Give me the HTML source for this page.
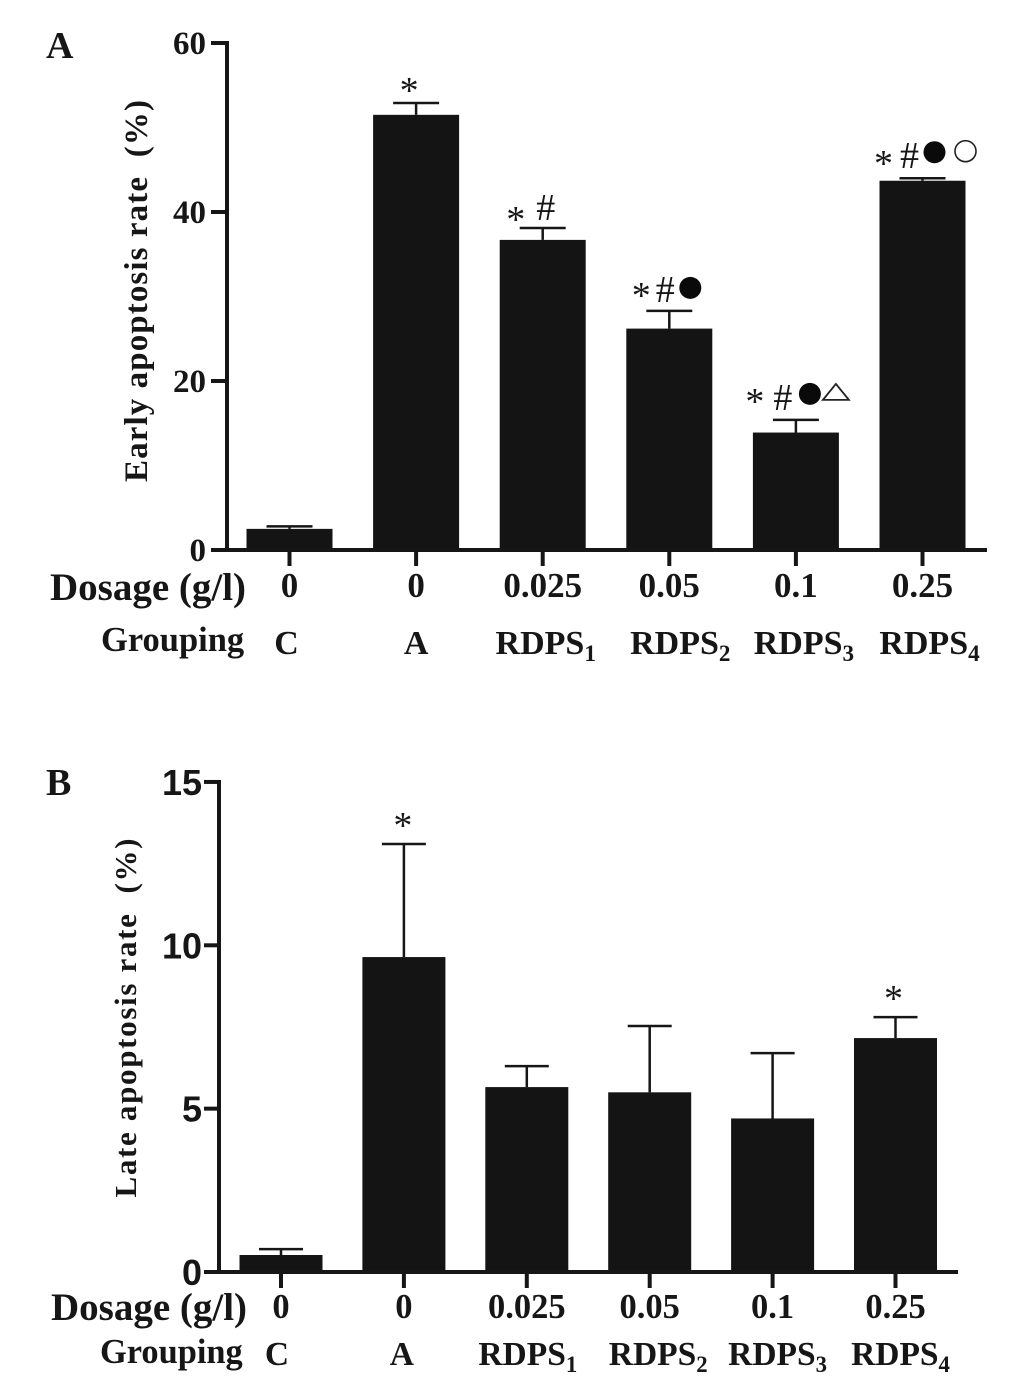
<!DOCTYPE html>
<html>
<head>
<meta charset="utf-8">
<style>
html,body{margin:0;padding:0;background:#fff;}
#fig{display:block;}
text{font-family:"Liberation Serif",serif;font-weight:bold;fill:#161616;}
</style>
</head>
<body>
<svg id="fig" xmlns="http://www.w3.org/2000/svg" width="1033" height="1394" viewBox="0 0 1033 1394"></svg>
<script>
const dosages = ['0','0','0.025','0.05','0.1','0.25'];
const groups = ['C','A','RDPS','RDPS','RDPS','RDPS'];
const groupSubs = ['','','1','2','3','4'];

const earlyValues = [2.5,51.5,36.7,26.2,13.9,43.7];
const earlyErrorTops = [2.8,52.9,38.1,28.3,15.4,44.0];
const earlyTicks = [0,20,40,60];
const earlyMarks = [[],['*'],['*','#'],['*','#','f'],['*','#','f','t'],['*','#','f','o']];

const lateValues = [0.52,9.64,5.66,5.5,4.7,7.16];
const lateErrorTops = [0.7,13.1,6.3,7.53,6.7,7.8];
const lateTicks = [0,5,10,15];
const lateMarks = [[],['*'],[],[],[],['*']];

const svg = document.getElementById('fig');
const NS = 'http://www.w3.org/2000/svg';
function add(tag, attrs, name, text){
  const el = document.createElementNS(NS, tag);
  for (const k in attrs) el.setAttribute(k, attrs[k]);
  
  
  if (text !== undefined) el.textContent = text;
  svg.appendChild(el);
  return el;
}
function line(x1,y1,x2,y2,w,name){
  return add('line',{x1,y1,x2,y2,stroke:'#161616','stroke-width':w},name);
}

function panel(o){
  const y = v => o.y0 - v * o.pxPerUnit;
  const x = i => o.x0 + i * o.step;

  // bars and error bars
  o.values.forEach((v,i)=>{
    const cx = x(i);
    line(cx,y(v),cx,y(o.errors[i]),o.errW,o.id+'-error-stem-'+i);
    line(cx-o.capHalf,y(o.errors[i]),cx+o.capHalf,y(o.errors[i]),o.errW,o.id+'-error-cap-'+i);
    add('rect',{x:cx-o.barW/2,y:y(v),width:o.barW,height:o.y0-y(v),fill:'#141414'},o.id+'-bar-'+i);
  });

  // axes
  line(o.axisX,y(o.ticks[o.ticks.length-1])-2,o.axisX,o.y0+2,4,o.id+'-y-axis');
  line(o.axisStart,o.y0,o.axisEnd,o.y0,4,o.id+'-x-axis');

  o.ticks.forEach(t=>{
    line(o.axisStart,y(t),o.axisX,y(t),4,o.id+'-y-tick-'+t);
    add('text',{x:o.axisStart-o.tickGap,y:y(t)+o.tickOff,'text-anchor':'end','font-size':o.tickSize,
      style:o.tickSans?'font-family:"Liberation Sans",sans-serif':''},o.id+'-y-tick-label-'+t,String(t));
  });

  // x ticks & labels
  dosages.forEach((d,i)=>{
    const cx = x(i);
    line(cx,o.y0,cx,o.y0+16,4,o.id+'-x-tick-'+i);
    add('text',{x:cx+o.dosageDx,y:o.dosageY,'text-anchor':'middle','font-size':o.dosageSize},o.id+'-dosage-label-'+i,d);
    const g = add('text',{x:cx+o.groupDx[i],y:o.groupY,'text-anchor':'middle','font-size':o.groupSize},o.id+'-group-label-'+i,groups[i]);
    if (groupSubs[i]) {
      const s = document.createElementNS(NS,'tspan');
      s.setAttribute('dy','7');
      s.setAttribute('font-size',String(o.groupSize*0.68));
      s.textContent = groupSubs[i];
      g.appendChild(s);
    }
  });

  add('text',{x:o.labelX,y:o.dosageTitleY,'font-size':o.titleSize},o.id+'-dosage-title','Dosage (g/l)');
  add('text',{x:o.groupTitleX,y:o.groupTitleY,'font-size':o.groupTitleSize},o.id+'-grouping-title','Grouping');

  add('text',{transform:'translate('+o.yTitleX+','+o.yTitleY+') rotate(-90)','text-anchor':'middle',
    'font-size':o.yTitleSize,textLength:o.yTitleLen,lengthAdjust:'spacing'},o.id+'-y-axis-title',o.yTitle);
  add('text',{x:o.letterX,y:o.letterY,'font-size':38},o.id+'-panel-letter',o.letter);

  // significance marks: offsets are relative to the bar centre and its error-bar top
  o.marks.forEach((ms,i)=>{
    const top = y(o.errors[i]);
    ms.forEach((m,j)=>{
      const off = o.markOffsets[i][j];
      const mx = x(i) + off[0];
      const my = top + off[1];
      if (m === '*') {
        add('text',{x:mx,y:my+16,'text-anchor':'middle','font-size':38,style:'font-weight:normal'},o.id+'-star-'+i,'*');
      } else if (m === '#') {
        add('text',{x:mx,y:my+13,'text-anchor':'middle','font-size':38,style:'font-weight:normal'},o.id+'-hash-'+i,'#');
      } else if (m === 'f') {
        add('circle',{cx:mx,cy:my,r:11,fill:'#0a0a0a'},o.id+'-filled-circle-'+i);
      } else if (m === 'o') {
        add('circle',{cx:mx,cy:my,r:10.5,fill:'none',stroke:'#222','stroke-width':1.6},o.id+'-open-circle-'+i);
      } else if (m === 't') {
        add('path',{d:'M'+(mx-13)+' '+(my+7)+'h26l-13 -16z',fill:'none',stroke:'#222','stroke-width':1.8},o.id+'-triangle-'+i);
      }
    });
  });
}

panel({
  id:'early',letter:'A',letterX:46,letterY:58,
  values:earlyValues,errors:earlyErrorTops,ticks:earlyTicks,marks:earlyMarks,
  y0:550,pxPerUnit:8.45,x0:289.5,step:126.6,barW:86,capHalf:23,errW:2.5,
  axisX:227,axisStart:211,axisEnd:987,tickSize:33,tickOff:11,tickGap:5,tickSans:false,
  dosageDx:0,dosageY:597,dosageSize:35,groupDx:[-3,0,3,11,8,7],groupY:654,groupSize:34,
  labelX:50,dosageTitleY:600,titleSize:39,groupTitleX:101,groupTitleY:651,groupTitleSize:34.5,
  yTitle:'Early apoptosis rate\u00a0 (%)',yTitleX:147,yTitleY:291,yTitleSize:33,yTitleLen:382,
  markOffsets:[[],[[-7,-16]],[[-27,-12],[3,-21]],[[-28,-19],[-4,-22],[21,-23]],[[-41,-22],[-13,-23],[14,-26],[40,-27]],[[-39,-18],[-13,-23],[12,-26],[43,-27]]]
});

panel({
  id:'late',letter:'B',letterX:46,letterY:795,
  values:lateValues,errors:lateErrorTops,ticks:lateTicks,marks:lateMarks,
  y0:1272,pxPerUnit:32.67,x0:281,step:122.9,barW:83,capHalf:22,errW:2.5,
  axisX:219,axisStart:204,axisEnd:958,tickSize:36,tickOff:13,tickGap:2,tickSans:true,
  dosageDx:0,dosageY:1318,dosageSize:34.5,groupDx:[-4,-2,1,8.5,5,5],groupY:1365,groupSize:33.5,
  labelX:51,dosageTitleY:1320,titleSize:39,groupTitleX:100,groupTitleY:1363,groupTitleSize:34.4,
  yTitle:'Late apoptosis rate\u00a0 (%)',yTitleX:136,yTitleY:1018,yTitleSize:31,yTitleLen:359,
  markOffsets:[[],[[-1,-22]],[],[],[],[[-2,-22]]]
});
</script>
</body>
</html>
